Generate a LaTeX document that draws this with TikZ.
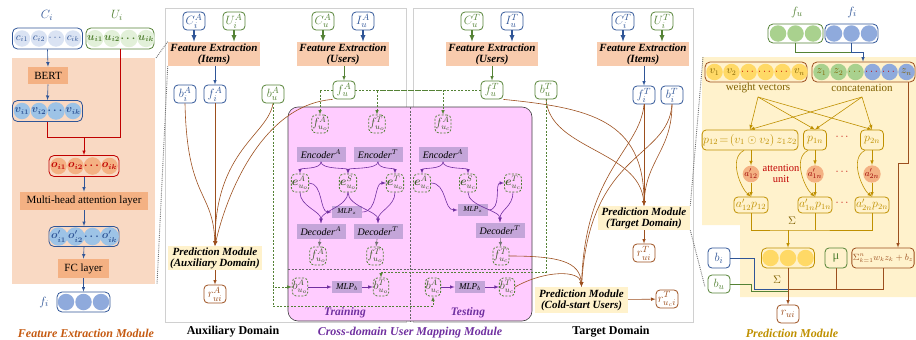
\documentclass[tikz,border=0pt]{standalone}
\usepackage{amsmath}
\usepackage{fontspec}
\setmainfont{Liberation Serif}
\usetikzlibrary{arrows}

\definecolor{dblue}{HTML}{2F5597}
\definecolor{dgreen}{HTML}{548235}
\definecolor{lblue}{HTML}{DAE3F3}
\definecolor{lgreen}{HTML}{E2F0D9}
\definecolor{mblue}{HTML}{8FAADC}
\definecolor{mgreen}{HTML}{A9D18E}
\definecolor{vblue}{HTML}{9DC3E6}
\definecolor{febg}{HTML}{F9D9C3}
\definecolor{fefill}{HTML}{F8CBAD}
\definecolor{bert}{HTML}{F4B183}
\definecolor{dred}{HTML}{C00000}
\definecolor{brn}{HTML}{9C4F1E}
\definecolor{pinkbg}{HTML}{FFCCFF}
\definecolor{lav}{HTML}{C4A5D9}
\definecolor{purp}{HTML}{7030A0}
\definecolor{gold}{HTML}{BF9000}
\definecolor{dolive}{HTML}{7F6000}
\definecolor{ylw}{HTML}{FFD966}
\definecolor{ybg}{HTML}{FFF2CC}
\definecolor{forange}{HTML}{C55A11}
\definecolor{pgray}{HTML}{D0D0D0}

\tikzset{
  lbl/.style={rounded corners=4pt,line width=0.8pt,minimum width=22pt,minimum height=18pt,inner sep=1pt,font=\fontsize{12.5}{13}\selectfont},
  ib/.style={lbl,draw=dblue,text=dblue},
  ub/.style={lbl,draw=dgreen,text=dgreen},
  rb/.style={lbl,draw=brn,text=brn},
  yb/.style={lbl,draw=gold,text=gold,minimum width=23pt,minimum height=20pt,font=\fontsize{11.5}{12}\selectfont},
  db/.style={lbl,draw=dgreen,text=dgreen!70!black,dash pattern=on 2pt off 1.5pt,minimum width=15pt,inner sep=0.5pt,font=\fontsize{11.5}{12}\selectfont},
  fe/.style={fill=fefill,font=\fontsize{11}{11}\selectfont\bfseries\itshape,align=center,minimum width=92pt,minimum height=24pt,inner sep=0pt},
  pm/.style={fe,fill=ybg},
  enc/.style={fill=lav,minimum width=49pt,minimum height=15pt,inner sep=0pt,font=\fontsize{10}{10}\selectfont},
  mlp/.style={fill=lav,minimum width=30pt,minimum height=12pt,inner sep=0pt,font=\fontsize{7.5}{7.5}\selectfont},
  vec/.style={draw,rounded corners=5pt,line width=0.8pt,minimum height=21pt},
  circ/.style={circle,inner sep=0pt,minimum size=16.5pt,font=\fontsize{10.5}{11}\selectfont},
  title/.style={font=\fontsize{12}{12}\selectfont\bfseries\itshape},
  barr/.style={dblue,-latex},
  tarr/.style={line width=1.3pt,-latex},
  gd/.style={dgreen,dash pattern=on 2pt off 1.5pt,-latex},
  br/.style={brn,-latex},
  pa/.style={purp,-latex},
  ga/.style={black!55,-latex},
  ya/.style={gold,-latex},
  zl/.style={black!55,densely dotted,line width=0.9pt}
}

\begin{document}
\begin{tikzpicture}[x=1pt,y=-1pt,line width=0.6pt,font=\fontsize{11}{12}\selectfont]
\useasboundingbox (0,0) rectangle (916,340);

% backgrounds
\fill[febg] (12,58) rectangle (155,284);
\draw[pgray] (165,8) rectangle (406,322);
\draw[pgray] (413,8) rectangle (693,322);
\draw[fill=pinkbg,draw=black!75,rounded corners=10pt] (288,107) rectangle (532,321);
\draw[black!60,dash pattern=on 2pt off 1.5pt] (410,107) -- (410,321);
\draw[black!60,dash pattern=on 2pt off 1.5pt] (288,269) -- (532,269);
\fill[ybg] (702,57) -- (916,57) -- (916,297) -- (740,297) -- (740,225) -- (702,225) -- cycle;

% feature extraction module
\node[text=dblue,font=\fontsize{13}{13}\selectfont] (Clab) at (47,15) {$C_i$};
\node[text=dgreen,font=\fontsize{13}{13}\selectfont] (Ulab) at (117,15) {$U_i$};
\node[vec,draw=dblue,minimum width=70pt] (cvec) at (47.5,38.5) {};
\foreach \t [count=\k] in {c_{i1},c_{i2},\cdots,c_{ik}}
  \node[circ,fill=lblue,text=dblue] (c\k) at ({5+17*\k},38.5) {$\t$};
\node[vec,draw=dgreen,minimum width=68pt] (uvec) at (120,38.5) {};
\foreach \t [count=\k] in {u_{i1},u_{i2},\cdots,u_{ik}}
  \node[circ,fill=lgreen,text=dgreen] (u\k) at ({78+17*\k},38.5) {$\boldsymbol{\t}$};
\node[fill=bert,minimum width=40pt,minimum height=17pt,inner sep=0pt] (bert) at (48,75.5) {BERT};
\node[vec,draw=dblue,minimum width=70pt] (vvec) at (47.5,111) {};
\foreach \t [count=\k] in {v_{i1},v_{i2},\cdots,v_{ik}}
  \node[circ,fill=vblue,text=dblue] (v\k) at ({5+17*\k},111) {$\boldsymbol{\t}$};
\node[vec,draw=dred,minimum width=70pt] (ovec) at (84,166) {};
\foreach \t [count=\k] in {o_{i1},o_{i2},\cdots,o_{ik}}
  \node[circ,fill=bert,text=dred] (o\k) at ({41.5+17*\k},166) {$\boldsymbol{\t}$};
\node[fill=bert,minimum width=128pt,minimum height=18pt,inner sep=0pt] (mha) at (84,201) {Multi-head attention layer};
\node[vec,draw=dblue,minimum width=70pt,minimum height=20pt] (opvec) at (84,236.5) {};
\foreach \t [count=\k] in {o'_{i1},o'_{i2},\cdots,o'_{ik}}
  \node[circ,fill=vblue,text=dblue] (op\k) at ({41.5+17*\k},236.5) {$\boldsymbol{\t}$};
\node[fill=bert,minimum width=51pt,minimum height=19pt,inner sep=0pt] (fc) at (83.5,268.5) {FC layer};
\node[vec,draw=dblue,minimum width=53pt,minimum height=20pt] (fivec) at (83.5,302) {};
\foreach \k in {1,2,3}
  \node[circ,fill=mblue] (fi\k) at ({48.5+17.5*\k},302) {};
\node[text=dblue,font=\fontsize{13}{13}\selectfont] (filab2) at (44,302) {$f_i$};
\node[title,text=forange] (femtitle) at (86,333) {Feature Extraction Module};

\draw[barr] (cvec.south) -- (bert.north);
\draw[barr] (bert.south) -- (vvec.north);
\coordinate (ojoin) at (84,137);
\draw[dred] (vvec.south) |- (ojoin);
\draw[dred] (uvec.south) |- (ojoin);
\draw[dred,-latex] (ojoin) -- (ovec.north);
\draw[barr] (ovec.south) -- (mha.north);
\draw[barr] (mha.south) -- (opvec.north);
\draw[barr] (opvec.south) -- (fc.north);
\draw[barr] (fc.south) -- (fivec.north);

% auxiliary domain
\node[ib] (CAi) at (194,21) {$C^A_i$};
\node[ub] (UAi) at (234,21) {$U^A_i$};
\node[fe] (feIA) at (214,54) {Feature Extraction\\(Items)};
\node[ib] (bAi) at (185,94) {$b^A_i$};
\node[ib] (fAi) at (215,94) {$f^A_i$};
\node[ub] (bAu) at (273,94) {$b^A_u$};
\node[ub] (CAu) at (323,21) {$C^A_u$};
\node[ib] (IAu) at (363,21) {$I^A_u$};
\node[fe] (feUA) at (343,54) {Feature Extraction\\(Users)};
\node[ub] (fAu) at (344,90) {$f^A_u$};
\node[pm,minimum width=94pt] (predA) at (215,258) {Prediction Module\\(Auxiliary Domain)};
\node[rb] (rA) at (215,294) {$r^A_{ui}$};
\node[font=\fontsize{12}{12}\selectfont\bfseries] (auxlab) at (233,332) {Auxiliary Domain};

\draw[tarr,dblue] (CAi) -- (CAi|-feIA.north);
\draw[tarr,dgreen] (UAi) -- (UAi|-feIA.north);
\draw[barr] (feIA.south-|fAi) -- (fAi);
\draw[tarr,dgreen] (CAu) -- (CAu|-feUA.north);
\draw[tarr,dblue] (IAu) -- (IAu|-feUA.north);
\draw[dgreen,-latex] (feUA.south-|fAu) -- (fAu);
\draw[br] (bAi.south) .. controls (187,200) and (213,190) .. (predA.north);
\draw[br] (fAi) -- (predA.north);
\draw[br] (bAu.south) .. controls (268,135) and (215,150) .. (predA.north);
\draw[br] (fAu.south west) .. controls (260,105) and (225,200) .. (predA.north);
\draw[br] (predA) -- (rA);

% target domain
\node[ub] (CTu) at (472,21) {$C^T_u$};
\node[ib] (ITu) at (512,21) {$I^T_u$};
\node[fe] (feUT) at (492,54) {Feature Extraction\\(Users)};
\node[ub] (fTu) at (492,90) {$f^T_u$};
\node[ub] (bTu) at (546,90) {$b^T_u$};
\node[ib] (CTi) at (623,21) {$C^T_i$};
\node[ub] (UTi) at (662,21) {$U^T_i$};
\node[fe] (feIT) at (643,54) {Feature Extraction\\(Items)};
\node[ib] (fTi) at (644,95) {$f^T_i$};
\node[ib] (bTi) at (672,95) {$b^T_i$};
\node[pm] (predT) at (644,218) {Prediction Module\\(Target Domain)};
\node[rb] (rT) at (644,253) {$r^T_{ui}$};
\node[pm,minimum width=93pt,minimum height=26pt] (predC) at (581.5,300) {Prediction Module\\(Cold-start Users)};
\node[rb] (rTc) at (667,299) {$r^T_{u_c i}$};
\node[font=\fontsize{12}{12}\selectfont\bfseries] (tarlab) at (611,332) {Target Domain};

\draw[tarr,dgreen] (CTu) -- (CTu|-feUT.north);
\draw[tarr,dblue] (ITu) -- (ITu|-feUT.north);
\draw[dgreen,-latex] (feUT.south-|fTu) -- (fTu);
\draw[tarr,dblue] (CTi) -- (CTi|-feIT.north);
\draw[tarr,dgreen] (UTi) -- (UTi|-feIT.north);
\draw[barr] (feIT.south-|fTi) -- (fTi);
\draw[br] (fTu.south east) .. controls (590,108) and (644,120) .. (predT.north);
\draw[br] (bTu.south) .. controls (550,150) and (640,150) .. (predT.north);
\draw[br] (fTi) -- (predT.north);
\draw[br] (bTi.south) .. controls (672,150) and (646,160) .. (predT.north);
\draw[br] (fTi.south) .. controls (640,150) and (585,170) .. (predC.north);
\draw[br] (bTi.south) .. controls (668,160) and (590,150) .. (predC.north);
\draw[br] (predT) -- (rT);
\draw[br] (predC) -- (rTc);

% cross-domain user mapping module: training
\node[db] (fAo) at (320,124) {$f^A_{u_o}$};
\node[db] (fTo) at (377,124) {$f^T_{u_o}$};
\node[enc] (encA) at (321,154) {\textit{Encoder}$^A$};
\node[enc] (encT) at (378,154) {\textit{Encoder}$^T$};
\node[db] (eAo) at (300,183) {$\boldsymbol{e}^A_{u_o}$};
\node[db] (eSo) at (348,183) {$\boldsymbol{e}^S_{u_o}$};
\node[db] (eTo) at (395,183) {$\boldsymbol{e}^T_{u_o}$};
\node[mlp] (mlpz) at (347,212) {$\mathit{MLP}_z$};
\node[enc] (decA) at (321,231) {\textit{Decoder}$^A$};
\node[enc] (decT) at (378,231) {\textit{Decoder}$^T$};
\node[db] (fAo2) at (318,256) {$f^A_{u_o}$};
\node[db] (fTo2) at (375,256) {$f^T_{u_o}$};
\node[db] (bAo) at (300,287) {$b^A_{u_o}$};
\node[mlp,font=\fontsize{9}{9}\selectfont] (mlpb) at (347,287) {$\mathit{MLP}_b$};
\node[db] (bTo) at (381,287) {$b^T_{u_o}$};
\node[title,font=\fontsize{11.5}{12}\selectfont\bfseries\itshape,text=purp] (trainlab) at (345,313) {Training};

\draw[pa] (encA.south) .. controls +(0,8) and +(0,-6) .. (eAo.north);
\draw[pa] (encA.south) .. controls +(0,8) and +(0,-6) .. (eSo.north);
\draw[pa] (encT.south) .. controls +(0,8) and +(0,-6) .. (eSo.north);
\draw[pa] (encT.south) .. controls +(0,8) and +(0,-6) .. (eTo.north);
\draw[pa] (eAo.east) .. controls +(14,0) and +(-12,0) .. (mlpz.west);
\draw[pa] (eAo.south) .. controls +(0,14) and +(0,-12) .. (decA.north);
\draw[pa] (eSo.south) .. controls +(0,14) and +(0,-12) .. (decA.north);
\draw[pa] (eSo.south) .. controls +(0,14) and +(0,-12) .. (decT.north);
\draw[pa] (mlpz.east) .. controls +(16,0) and +(-12,0) .. (eTo.west);
\draw[pa] (eTo.south) .. controls +(0,14) and +(0,-12) .. (decT.north);
\draw[ga] (decA) -- (fAo2);
\draw[ga] (decT) -- (fTo2);
\draw[pa] (bAo) -- (mlpb);
\draw[pa] (mlpb) -- (bTo);

% cross-domain user mapping module: testing
\node[db] (fAc) at (443,124) {$f^A_{u_c}$};
\node[enc] (encAc) at (443,154) {\textit{Encoder}$^A$};
\node[db] (eAc) at (422,183) {$\boldsymbol{e}^A_{u_c}$};
\node[db] (eSc) at (468,183) {$\boldsymbol{e}^S_{u_c}$};
\node[db] (eTc) at (513,183) {$\boldsymbol{e}^T_{u_c}$};
\node[mlp] (mlpzc) at (473,210) {$\mathit{MLP}_z$};
\node[enc] (decTc) at (500,230) {\textit{Decoder}$^T$};
\node[db] (fTc) at (501,256) {$f^T_{u_c}$};
\node[db] (bAc) at (433,287) {$b^A_{u_c}$};
\node[mlp,font=\fontsize{9}{9}\selectfont] (mlpbc) at (470,287) {$\mathit{MLP}_b$};
\node[db] (bTc) at (507,287) {$b^T_{u_c}$};
\node[title,font=\fontsize{11.5}{12}\selectfont\bfseries\itshape,text=purp] (testlab) at (468,313) {Testing};
\node[title,text=purp] (cdtitle) at (410,333) {Cross-domain User Mapping Module};

\draw[pa] (encAc.south) .. controls +(0,8) and +(0,-6) .. (eAc.north);
\draw[pa] (encAc.south) .. controls +(0,8) and +(0,-6) .. (eSc.north);
\draw[pa] (eAc.east) .. controls +(16,0) and +(-14,0) .. (mlpzc.west);
\draw[pa] (mlpzc.east) .. controls +(14,0) and +(-10,0) .. (eTc.west);
\draw[pa] (eSc.south) .. controls +(0,14) and +(0,-12) .. (decTc.north);
\draw[pa] (eTc.south) .. controls +(0,14) and +(0,-12) .. (decTc.north);
\draw[ga] (decTc) -- (fTc);
\draw[pa] (bAc) -- (mlpbc);
\draw[pa] (mlpbc) -- (bTc);
\draw[br] (fTc.east) .. controls (560,256) and (580,262) .. (predC.north);
\draw[br] (bTc.east) .. controls (545,270) and (580,270) .. (predC.north);

% user features and biases into the mapping module
\draw[gd] (fAu.west) -| (fAo.north);
\draw[gd] (fTu.west) -| (fTo.north);
\draw[gd] (fAu.east) -| (fAc.north);
\coordinate (bAturn) at (273,306);
\draw[gd] (bAu.south) |- (bAo.west);
\draw[gd] (bAu.south) -- (bAturn) -| (bAc.south);
\coordinate (bTturn) at (546,272);
\draw[gd] (bTu.south) -- (bTturn) -| (bTo.north);

% prediction module
\node[text=dgreen,font=\fontsize{13}{13}\selectfont] (fulab) at (797,12) {$f_u$};
\node[text=dblue,font=\fontsize{13}{13}\selectfont] (filab) at (852,12) {$f_i$};
\node[vec,draw=dgreen,minimum width=55pt,minimum height=19pt] (fuvec) at (795.5,33.5) {};
\foreach \k in {1,2,3}
  \node[circ,fill=mgreen] (fu\k) at ({760.5+17.5*\k},33.5) {};
\node[vec,draw=dblue,minimum width=53pt,minimum height=19pt] (fvec) at (851.5,33.5) {};
\foreach \k in {1,2,3}
  \node[circ,fill=mblue] (fv\k) at ({816.5+17.5*\k},33.5) {};
\node[vec,draw=brn,minimum width=102pt,minimum height=20pt] (wvec) at (756,72) {};
\foreach \t/\c [count=\k] in {v_1/dolive,v_2/dolive,\cdots/dred,\cdots/dred,\cdots/dred,v_n/dolive}
  \node[circ,fill=ylw,text=\c] (w\k) at ({697.5+17*\k},72) {$\t$};
\node[vec,draw=brn,minimum width=103pt,minimum height=20pt] (catvec) at (863.5,72) {};
\foreach \t/\f/\c [count=\k] in {z_1/mgreen/dolive,z_2/mgreen/dolive,\cdots/mgreen/dolive,\cdots/mblue/dred,\cdots/mblue/dred,z_n/mblue/dolive}
  \node[circ,fill=\f,text=\c] (z\k) at ({804.5+17*\k},72) {$\t$};
\node[text=dolive] (wlab) at (758,88) {weight vectors};
\node[text=dolive] (clab) at (862,88) {concatenation};
\node[yb,minimum width=90pt] (p12) at (750,140) {$p_{12}\!=\!(v_1\odot v_2)\,z_1z_2$};
\node[yb] (p1n) at (815,140) {$p_{1n}$};
\node[yb] (p2n) at (872,140) {$p_{2n}$};
\node[text=dred] (pdots) at (843,137) {$\cdots$};
\foreach \n/\x/\t in {a12/751/12,a1n/815/1n,a2n/872/2n}
  \node[circle,fill=bert,inner sep=0pt,minimum size=16pt,text=dred!80!black,font=\fontsize{9.5}{10}\selectfont] (\n) at (\x,174) {$a'_{\t}$};
\node[text=dred,align=center,font=\fontsize{10.5}{11}\selectfont] (attlab) at (781,174) {attention\\unit};
\node[text=dred] (adots) at (843,172) {$\cdots$};
\node[yb,minimum width=34pt,minimum height=16pt] (ap12) at (751,205) {$a'_{12}p_{12}$};
\node[yb,minimum width=34pt,minimum height=16pt] (ap1n) at (815,205) {$a'_{1n}p_{1n}$};
\node[yb,minimum width=34pt,minimum height=16pt] (ap2n) at (872,205) {$a'_{2n}p_{2n}$};
\node[text=dred] (apdots) at (843,203) {$\cdots$};
\node[vec,draw=gold,minimum width=53pt,minimum height=20pt] (ysum) at (788,258) {};
\foreach \k in {1,2,3}
  \node[circ,fill=ylw] (y\k) at ({753+17.5*\k},258) {};
\node[ub,minimum height=20pt] (mu) at (836,258) {μ};
\node[rb,minimum width=60pt,minimum height=20pt,font=\fontsize{9}{9}\selectfont] (zsum) at (883,258) {$\Sigma_{k=1}^{n} w_k z_k + b_z$};
\node[ib,minimum height=20pt] (bi) at (719,258) {$b_i$};
\node[ub] (bu) at (719,284) {$b_u$};
\node[rb] (rui) at (788,314) {$r_{ui}$};
\node[text=dolive] (sig1) at (792,221) {$\Sigma$};
\node[text=dolive] (sig2) at (777,280) {$\Sigma$};
\node[title,text=gold] (pmtitle) at (792,333) {Prediction Module};

\coordinate (catin) at (863,52);
\draw[dgreen] (fuvec.south) |- (catin);
\draw[dblue] (fvec.south) |- (catin);
\draw[barr] (catin) -- (catin|-catvec.north);
\coordinate (wsrc) at (758,97);
\coordinate (csrc) at (862,97);
\foreach \t in {p12,p1n,p2n} {
  \draw[ya] (wsrc) -- (\t.north-|\t);
  \draw[ya] (csrc) -- (\t.north-|\t);
}
\foreach \p/\a/\b in {p12/a12/ap12,p1n/a1n/ap1n,p2n/a2n/ap2n} {
  \draw[ya] (\p.south-|\a) -- (\a);
  \draw[ya] (\a) -- (\b);
  \draw[ya] ([xshift=-7pt]\p.south-|\a) .. controls +(-16,8) and +(-10,-8) .. (\b.north);
}
\coordinate (sumj) at (788,230);
\draw[gold] (ap12.south) |- (sumj) -| (ap2n.south);
\draw[gold] (ap1n.south) -- (ap1n.south|-sumj);
\draw[ya] (sumj) -- (ysum.north);
\coordinate (zturn) at (908,163);
\draw[br] (catvec.south-|zturn) -- (zturn) -| ([xshift=15pt]zsum.north);
\coordinate (rj) at (788,289);
\draw[dblue] (bi.east) -- ++(24,0) |- (rj);
\draw[dgreen] (bu.east) -- ++(21,0) |- ([yshift=-2pt]rj);
\draw[brn] (mu.south) |- (rj);
\draw[brn] (zsum.south) |- (rj);
\draw[brn,-latex] (ysum.south) -- (rui.north);

% zoom guides
\coordinate (febgNE) at (156,58);
\coordinate (febgSE) at (157,284);
\draw[zl] (feIA.north west) -- (febgNE);
\draw[zl] (feIA.south west) -- (febgSE);
\coordinate (pmNW) at (703,57);
\coordinate (pmSW) at (705,287);
\draw[zl] (predT.north east) -- (pmNW);
\draw[zl] (predT.south east) -- (pmSW);
\end{tikzpicture}
\end{document}
